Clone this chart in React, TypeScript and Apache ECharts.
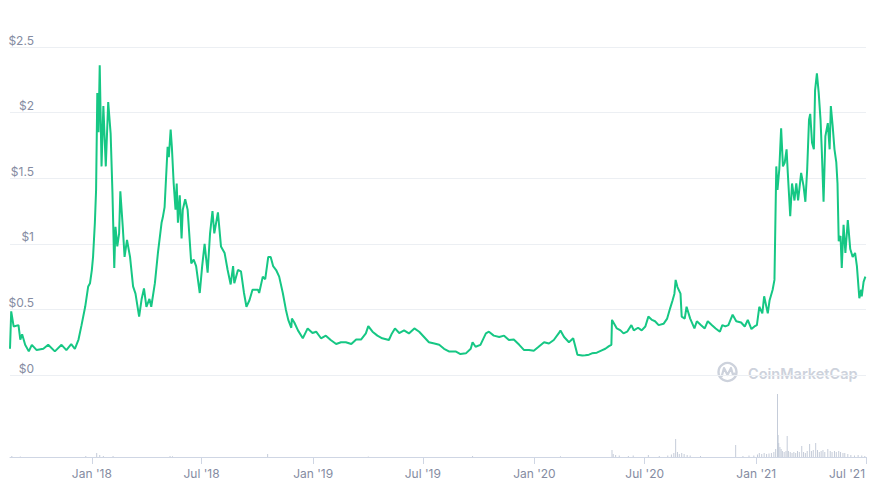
import React, { useEffect, useRef } from "react";
import * as echarts from "echarts";

const priceDates = [
  "2017-08-19","2017-08-21","2017-08-25","2017-09-02","2017-09-05","2017-09-08","2017-09-13","2017-09-19","2017-09-24","2017-10-02",
  "2017-10-13","2017-10-21","2017-11-01","2017-11-12","2017-11-20","2017-11-28","2017-12-04","2017-12-10","2017-12-15","2017-12-21",
  "2017-12-26","2017-12-29","2018-01-01","2018-01-03","2018-01-06","2018-01-08","2018-01-10","2018-01-12","2018-01-14","2018-01-17",
  "2018-01-20","2018-01-24","2018-01-28","2018-02-01","2018-02-04","2018-02-07","2018-02-09","2018-02-12","2018-02-15","2018-02-17",
  "2018-02-21","2018-02-24","2018-02-28","2018-03-05","2018-03-10","2018-03-14","2018-03-20","2018-03-24","2018-03-28","2018-04-01",
  "2018-04-06","2018-04-09","2018-04-15","2018-04-20","2018-04-26","2018-04-28","2018-05-01","2018-05-06","2018-05-08","2018-05-11",
  "2018-05-13","2018-05-16","2018-05-19","2018-05-21","2018-05-23","2018-05-26","2018-05-29","2018-05-31","2018-06-04","2018-06-08",
  "2018-06-14","2018-06-18","2018-06-22","2018-06-28","2018-07-02","2018-07-06","2018-07-11","2018-07-15","2018-07-19","2018-07-22",
  "2018-07-28","2018-08-02","2018-08-08","2018-08-13","2018-08-18","2018-08-22","2018-08-24","2018-08-30","2018-09-04","2018-09-09",
  "2018-09-13","2018-09-18","2018-09-23","2018-10-02","2018-10-04","2018-10-10","2018-10-14","2018-10-19","2018-10-23","2018-10-27",
  "2018-11-01","2018-11-06","2018-11-12","2018-11-17","2018-11-21","2018-11-26","2018-11-27","2018-12-01","2018-12-07","2018-12-15",
  "2018-12-23","2018-12-31","2019-01-06","2019-01-14","2019-01-22","2019-01-30","2019-02-08","2019-02-16","2019-02-24","2019-03-05",
  "2019-03-13","2019-03-21","2019-03-29","2019-04-02","2019-04-09","2019-04-17","2019-04-25","2019-05-06","2019-05-11","2019-05-16",
  "2019-05-23","2019-05-31","2019-06-08","2019-06-17","2019-06-25","2019-07-03","2019-07-11","2019-07-20","2019-07-28","2019-08-05",
  "2019-08-13","2019-08-24","2019-09-01","2019-09-10","2019-09-18","2019-09-21","2019-09-26","2019-10-04","2019-10-13","2019-10-18",
  "2019-10-26","2019-11-04","2019-11-12","2019-11-20","2019-11-28","2019-12-07","2019-12-15","2019-12-23","2019-12-31","2020-01-08",
  "2020-01-17","2020-01-25","2020-02-02","2020-02-10","2020-02-13","2020-02-19","2020-02-27","2020-03-05","2020-03-12","2020-03-20",
  "2020-03-25","2020-03-31","2020-04-05","2020-04-13","2020-04-22","2020-04-27","2020-05-03","2020-05-07","2020-05-08","2020-05-13",
  "2020-05-16","2020-05-22","2020-05-27","2020-06-02","2020-06-09","2020-06-13","2020-06-20","2020-06-26","2020-07-02","2020-07-07",
  "2020-07-13","2020-07-18","2020-07-24","2020-08-01","2020-08-07","2020-08-12","2020-08-16","2020-08-19","2020-08-21","2020-08-24",
  "2020-08-29","2020-08-31","2020-09-05","2020-09-08","2020-09-14","2020-09-21","2020-09-25","2020-10-02","2020-10-08","2020-10-13",
  "2020-10-20","2020-10-26","2020-11-02","2020-11-06","2020-11-11","2020-11-16","2020-11-23","2020-11-29","2020-12-07","2020-12-13",
  "2020-12-18","2020-12-24","2020-12-29","2021-01-02","2021-01-06","2021-01-11","2021-01-14","2021-01-20","2021-01-23","2021-01-28",
  "2021-01-31","2021-02-03","2021-02-05","2021-02-08","2021-02-11","2021-02-14","2021-02-17","2021-02-20","2021-02-22","2021-02-26",
  "2021-03-01","2021-03-05","2021-03-08","2021-03-11","2021-03-16","2021-03-20","2021-03-23","2021-03-26","2021-03-29","2021-03-31",
  "2021-04-03","2021-04-06","2021-04-08","2021-04-11","2021-04-14","2021-04-17","2021-04-19","2021-04-22","2021-04-25","2021-04-29",
  "2021-05-02","2021-05-04","2021-05-07","2021-05-10","2021-05-13","2021-05-15","2021-05-17","2021-05-20","2021-05-22","2021-05-25",
  "2021-05-28","2021-06-01","2021-06-05","2021-06-09","2021-06-13","2021-06-16","2021-06-20","2021-06-23","2021-06-24","2021-06-27",
  "2021-06-30"
];

const priceValues = [
  0.20,0.485,0.37,0.38,0.27,0.31,0.23,0.18,0.23,0.19,
  0.20,0.23,0.18,0.23,0.19,0.235,0.20,0.27,0.38,0.52,
  0.675,0.70,0.80,0.90,1.16,1.41,2.15,1.85,2.36,1.59,
  2.05,1.59,2.08,1.84,1.39,0.815,1.13,0.98,1.08,1.40,
  1.13,0.90,1.03,0.90,0.675,0.62,0.445,0.575,0.66,0.52,
  0.58,0.52,0.70,0.93,1.16,1.20,1.28,1.74,1.66,1.87,
  1.74,1.46,1.26,1.46,1.16,1.37,1.04,1.26,1.34,1.26,
  0.85,0.88,0.83,0.625,0.83,1.00,0.78,1.08,1.25,1.08,
  1.24,0.98,0.93,0.80,0.69,0.83,0.70,0.80,0.79,0.625,
  0.52,0.57,0.65,0.65,0.625,0.75,0.73,0.90,0.90,0.83,
  0.80,0.75,0.625,0.50,0.42,0.36,0.43,0.40,0.34,0.28,
  0.355,0.32,0.33,0.28,0.30,0.267,0.236,0.25,0.25,0.236,
  0.27,0.27,0.317,0.373,0.33,0.30,0.28,0.267,0.317,0.355,
  0.32,0.34,0.317,0.355,0.33,0.29,0.25,0.24,0.23,0.20,
  0.18,0.18,0.16,0.165,0.20,0.25,0.215,0.23,0.317,0.33,
  0.30,0.29,0.30,0.267,0.27,0.23,0.19,0.19,0.185,0.215,
  0.25,0.24,0.267,0.317,0.34,0.29,0.25,0.28,0.155,0.148,
  0.15,0.155,0.165,0.17,0.19,0.20,0.22,0.23,0.42,0.38,
  0.355,0.34,0.317,0.33,0.38,0.34,0.36,0.34,0.37,0.445,
  0.42,0.41,0.38,0.39,0.43,0.51,0.57,0.62,0.725,0.67,
  0.62,0.445,0.43,0.52,0.43,0.355,0.41,0.38,0.355,0.41,
  0.38,0.355,0.33,0.38,0.37,0.38,0.46,0.41,0.40,0.37,
  0.42,0.35,0.37,0.38,0.52,0.47,0.60,0.47,0.57,0.65,
  0.725,1.59,1.41,1.57,1.88,1.59,1.62,1.72,1.54,1.21,
  1.46,1.33,1.46,1.33,1.54,1.44,1.32,1.57,1.945,1.99,
  1.77,1.72,2.17,2.30,2.15,1.945,1.72,1.32,1.82,1.92,
  1.72,2.05,1.90,1.72,1.62,1.46,1.02,1.06,0.815,1.145,
  0.93,1.18,0.96,0.90,0.93,0.83,0.585,0.65,0.60,0.71,
  0.75
];

const volumeDates = [
  "2017-08-22","2017-09-05","2017-12-22","2018-01-09","2018-01-14","2018-01-20","2018-02-05","2018-05-10","2018-05-14","2018-10-18",
  "2019-04-02","2019-09-21","2020-02-13","2020-05-08","2020-05-10","2020-05-14","2020-05-20","2020-06-04","2020-06-12","2020-07-07",
  "2020-07-25","2020-08-08","2020-08-14","2020-08-18","2020-08-21","2020-08-24","2020-08-27","2020-08-31","2020-09-04","2020-09-09",
  "2020-09-14","2020-10-01","2020-11-28","2020-12-10","2020-12-20","2020-12-28","2021-01-03","2021-01-06","2021-01-10","2021-01-14",
  "2021-01-18","2021-01-22","2021-01-26","2021-01-30","2021-02-02","2021-02-05","2021-02-06","2021-02-07","2021-02-09","2021-02-11",
  "2021-02-13","2021-02-16","2021-02-19","2021-02-21","2021-02-23","2021-02-26","2021-03-01","2021-03-04","2021-03-07","2021-03-10",
  "2021-03-13","2021-03-17","2021-03-20","2021-03-23","2021-03-26","2021-03-30","2021-04-02","2021-04-05","2021-04-09","2021-04-12",
  "2021-04-15","2021-04-18","2021-04-21","2021-04-24","2021-04-29","2021-05-03","2021-05-06","2021-05-10","2021-05-13","2021-05-17",
  "2021-05-20","2021-05-24","2021-05-27","2021-06-01","2021-06-06","2021-06-12","2021-06-18","2021-06-24","2021-06-29"
];

const volumeValues = [
  1,0.6,1,4,2,1,1,1,0.8,3,
  0.6,1,0.8,7,3,2,1.5,1,1.5,2,
  1,1.5,2.5,4,18,5,3,4,3,2,
  1.5,1,12,1,1.5,1.5,2.5,4,3,4,
  3,3.5,4,5,8,63,22,14,10,8,
  6,5,6,21,6,5,4,5,4,6,
  5,11,5,4,6,13,6,7,14,7,
  5,6,7,5,8,6,5,6,5,6,
  5,4,4,3,2,1.5,2,1.5,1
];

const tickDates = ["2018-01-01","2018-07-01","2019-01-01","2019-07-01","2020-01-01","2020-07-01","2021-01-01","2021-07-01"];
const tickLabels = ["Jan '18","Jul '18","Jan '19","Jul '19","Jan '20","Jul '20","Jan '21","Jul '21"];
const yTickLabels = ["$0", "$0.5", "$1", "$1.5", "$2", "$2.5"];

const X_MIN = "2017-08-19";
const X_MAX = "2021-07-01";

const toTime = (s: string) => Date.parse(s + "T00:00:00Z");

export default function App() {
  const ref = useRef<HTMLDivElement>(null);

  useEffect(() => {
    document.body.style.margin = "0";
    if (!ref.current) return;
    const chart = echarts.init(ref.current, null, { renderer: "svg" });
    const tickTimes = tickDates.map(toTime);
    const xMin = toTime(X_MIN);
    const xMax = toTime(X_MAX);
    const font = "Inter, 'Noto Sans', sans-serif";
    const labelColor = "#858ca2";

    const option: any = {
      animation: false,
      grid: [
        { left: 10, right: 5, top: 47, bottom: 115 },
        { left: 10, right: 5, top: 390, bottom: 33 },
      ],
      xAxis: [
        { type: "value", gridIndex: 0, min: xMin, max: xMax, show: false, splitLine: { show: false } },
        {
          type: "value",
          gridIndex: 1,
          min: xMin,
          max: xMax,
          axisLine: { show: true, lineStyle: { color: "#cfd6e4", width: 1 } },
          axisTick: { show: true, customValues: tickTimes, length: 7, lineStyle: { color: "#cfd6e4" } },
          axisLabel: {
            customValues: tickTimes,
            color: labelColor,
            fontSize: 12,
            fontFamily: font,
            margin: 10,
            formatter: (v: number) => {
              const i = tickTimes.indexOf(v);
              if (i < 0) return "";
              return i === tickTimes.length - 1 ? "{last|" + tickLabels[i] + "}" : tickLabels[i];
            },
            rich: {
              last: { color: labelColor, fontSize: 12, fontFamily: font, padding: [0, 38, 0, 0] },
            },
          },
          splitLine: { show: false },
        },
      ],
      yAxis: [
        {
          type: "value",
          gridIndex: 0,
          min: 0,
          max: 2.5,
          interval: 0.5,
          axisLine: { show: false },
          axisTick: { show: false },
          splitLine: { show: true, lineStyle: { color: "#eceff3", width: 1 } },
          axisLabel: {
            inside: true,
            align: "right",
            verticalAlign: "bottom",
            margin: 24,
            padding: [0, 0, 1, 0],
            color: labelColor,
            fontSize: 12,
            fontFamily: font,
            formatter: (_v: number, i: number) => yTickLabels[i],
          },
        },
        { type: "value", gridIndex: 1, min: 0, max: 67, show: false },
      ],
      graphic: [
        {
          type: "group",
          z: 100,
          children: [
            { type: "rect", shape: { x: 714, y: 362, width: 144, height: 26 }, style: { fill: "#ffffff" } },
            { type: "circle", shape: { cx: 727.5, cy: 372, r: 9 }, style: { fill: "none", stroke: "#cdd2dc", lineWidth: 2.4 } },
            {
              type: "polyline",
              shape: { points: [[721.5, 377], [724, 368], [727.5, 375], [731, 368], [733, 375], [735, 373]] },
              style: { fill: "none", stroke: "#cdd2dc", lineWidth: 2.2, lineJoin: "round" },
            },
            {
              type: "text",
              x: 748,
              y: 373,
              style: {
                text: "CoinMarketCap",
                fill: "#cdd2dc",
                font: "600 14.5px Inter, 'Noto Sans', sans-serif",
                verticalAlign: "middle",
                align: "left",
              },
            },
          ],
        },
      ],
      series: [
        {
          type: "line",
          xAxisIndex: 0,
          yAxisIndex: 0,
          data: priceDates.map((d, i) => [toTime(d), priceValues[i]]),
          showSymbol: false,
          symbol: "none",
          lineStyle: { color: "#16c784", width: 2 },
          z: 3,
        },
        {
          type: "bar",
          xAxisIndex: 1,
          yAxisIndex: 1,
          data: volumeDates.map((d, i) => [toTime(d), volumeValues[i]]),
          barWidth: 1,
          itemStyle: { color: "#c5ccd9" },
        },
      ],
    };
    chart.setOption(option);
    return () => chart.dispose();
  }, []);

  return <div ref={ref} style={{ width: 871, height: 490 }} />;
}
